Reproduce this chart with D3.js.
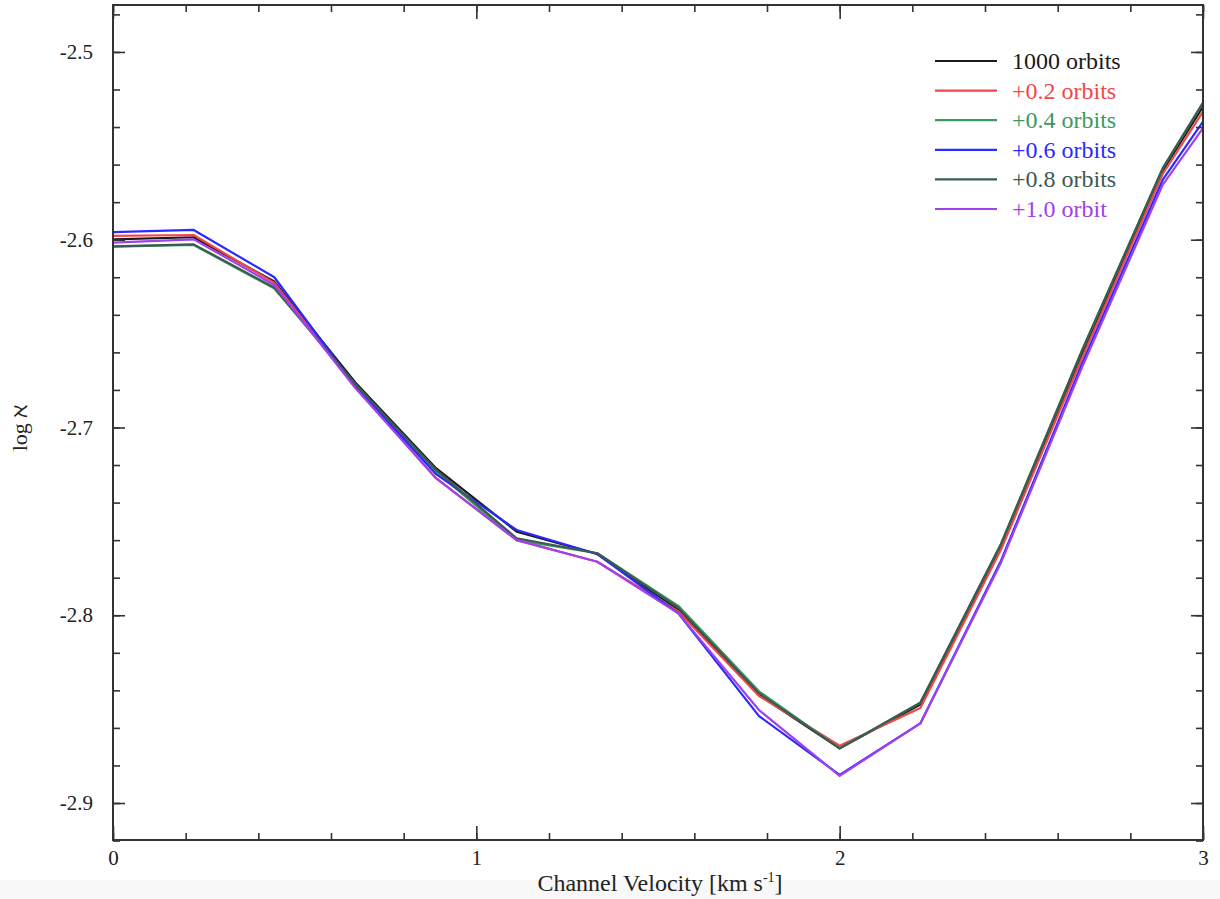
<!DOCTYPE html>
<html>
<head>
<meta charset="utf-8">
<script src="https://cdn.jsdelivr.net/npm/d3@7"></script>
<style>
  html, body { margin: 0; padding: 0; background: #fff; }
  svg { display: block; }
  svg text { font-family: "Liberation Serif", "Times New Roman", "DejaVu Serif", serif; }
</style>
</head>
<body>
<svg id="chart" width="1220" height="899"></svg>
<script>
// ---- data ----
const velocity = [0, 0.222, 0.444, 0.667, 0.889, 1.111, 1.333, 1.556, 1.778, 2.0, 2.222, 2.444, 2.667, 2.889, 3.0];
const orbits1000 = [-2.5998, -2.5987, -2.6223, -2.676, -2.7217, -2.7555, -2.7674, -2.797, -2.8425, -2.8709, -2.8475, -2.763, -2.661, -2.5632, -2.5291];
const plus02 = [-2.598, -2.5975, -2.623, -2.678, -2.727, -2.760, -2.7715, -2.798, -2.843, -2.8695, -2.8494, -2.765, -2.663, -2.565, -2.5318];
const plus04 = [-2.6037, -2.6028, -2.626, -2.677, -2.7235, -2.760, -2.767, -2.795, -2.8405, -2.8709, -2.8466, -2.762, -2.659, -2.562, -2.5273];
const plus06 = [-2.596, -2.5948, -2.620, -2.678, -2.7248, -2.7546, -2.7674, -2.799, -2.8537, -2.885, -2.8576, -2.771, -2.666, -2.5682, -2.5371];
const plus08 = [-2.6035, -2.6025, -2.6255, -2.677, -2.7225, -2.759, -2.767, -2.796, -2.8415, -2.8709, -2.8466, -2.762, -2.659, -2.562, -2.527];
const plus10 = [-2.6016, -2.5998, -2.6241, -2.679, -2.727, -2.760, -2.7715, -2.799, -2.8505, -2.8855, -2.8576, -2.772, -2.668, -2.5708, -2.5406];
const seriesNames = ["1000 orbits", "+0.2 orbits", "+0.4 orbits", "+0.6 orbits", "+0.8 orbits", "+1.0 orbit"];
const seriesColors = ["#1a1a1a", "#f04848", "#3a9a5e", "#2a2aff", "#3c5a52", "#a040ee"];
const xMajorTicks = [0, 1, 2, 3];
const yMajorTicks = [-2.5, -2.6, -2.7, -2.8, -2.9];
const yMinorTicks = d3.range(-2.92, -2.47, 0.02).map(v => +v.toFixed(2));
const xMinorTicks = d3.range(0, 3.01, 0.2).map(v => +v.toFixed(1));
const xLabel = "Channel Velocity [km s";
const yLabel = "log ℵ";

const allSeries = [orbits1000, plus02, plus04, plus06, plus08, plus10];

// ---- layout ----
const FONT = "'Liberation Serif', 'Times New Roman', serif";
const svg = d3.select("#chart");
const L = 113, R = 1203, T = 5, B = 840;
const x = d3.scaleLinear().domain([0, 3]).range([L, R]);
const y = d3.scaleLinear().domain([-2.9197, -2.475]).range([B, T]);

svg.append("rect").attr("x", 0).attr("y", 880).attr("width", 1220).attr("height", 19).attr("fill", "#f8f8f8");

const clip = svg.append("defs").append("clipPath").attr("id", "plotclip");
clip.append("rect").attr("x", L).attr("y", T).attr("width", R - L).attr("height", B - T);

// lines
const line = d3.line().x((d, i) => x(velocity[i])).y(d => y(d));
const lg = svg.append("g").attr("clip-path", "url(#plotclip)");
allSeries.forEach((s, i) => {
  lg.append("path").datum(s).attr("d", line)
    .attr("fill", "none").attr("stroke", seriesColors[i])
    .attr("stroke-width", 2.2).attr("stroke-linejoin", "round");
});

// axes
const axisColor = "#333";
const fmtY = v => v.toFixed(1);  // hyphen-minus like reference
function styleAxis(g) {
  g.attr("font-family", FONT).attr("font-size", 21);
  g.select(".domain").remove();
  g.selectAll(".tick line").attr("stroke", axisColor).attr("stroke-width", 1.6);
  g.selectAll("text").attr("fill", "#222").attr("font-family", FONT).attr("font-size", 21);
}
// left
svg.append("g").attr("transform", `translate(${L},0)`)
  .call(d3.axisLeft(y).tickValues(yMinorTicks).tickSize(-7).tickFormat(""))
  .call(styleAxis);
svg.append("g").attr("transform", `translate(${L},0)`)
  .call(d3.axisLeft(y).tickValues(yMajorTicks).tickSize(-12).tickPadding(20).tickFormat(fmtY))
  .call(styleAxis);
// right
svg.append("g").attr("transform", `translate(${R},0)`)
  .call(d3.axisRight(y).tickValues(yMinorTicks).tickSize(-7).tickFormat(""))
  .call(styleAxis);
svg.append("g").attr("transform", `translate(${R},0)`)
  .call(d3.axisRight(y).tickValues(yMajorTicks).tickSize(-12).tickFormat(""))
  .call(styleAxis);
// bottom
svg.append("g").attr("transform", `translate(0,${B})`)
  .call(d3.axisBottom(x).tickValues(xMinorTicks).tickSize(-7).tickFormat(""))
  .call(styleAxis);
svg.append("g").attr("transform", `translate(0,${B})`)
  .call(d3.axisBottom(x).tickValues(xMajorTicks).tickSize(-14).tickPadding(10).tickFormat(d3.format("d")))
  .call(styleAxis);
// top
svg.append("g").attr("transform", `translate(0,${T})`)
  .call(d3.axisTop(x).tickValues(xMinorTicks).tickSize(-7).tickFormat(""))
  .call(styleAxis);
svg.append("g").attr("transform", `translate(0,${T})`)
  .call(d3.axisTop(x).tickValues(xMajorTicks).tickSize(-14).tickFormat(""))
  .call(styleAxis);

// frame
svg.append("rect").attr("x", L).attr("y", T).attr("width", R - L).attr("height", B - T)
  .attr("fill", "none").attr("stroke", axisColor).attr("stroke-width", 2);

// axis titles
const xt = svg.append("text").attr("x", 660).attr("y", 891)
  .attr("text-anchor", "middle").attr("font-family", FONT).attr("font-size", 24).attr("fill", "#222");
xt.append("tspan").text(xLabel);
xt.append("tspan").text("-1").attr("dy", -9).attr("font-size", 14);
xt.append("tspan").text("]").attr("dy", 9);

svg.append("text").attr("transform", "translate(27,428) rotate(-90)")
  .attr("text-anchor", "middle").attr("font-family", FONT).attr("font-size", 22).attr("fill", "#222").text(yLabel);

// legend
const leg = svg.append("g");
seriesNames.forEach((n, i) => {
  const yy = 61 + i * 29.6;
  leg.append("line").attr("x1", 935).attr("x2", 997).attr("y1", yy).attr("y2", yy)
    .attr("stroke", seriesColors[i]).attr("stroke-width", 2.2);
  leg.append("text").attr("x", 1012).attr("y", yy + 8).text(n)
    .attr("font-family", FONT).attr("font-size", 24).attr("fill", seriesColors[i]);
});
</script>
</body>
</html>
